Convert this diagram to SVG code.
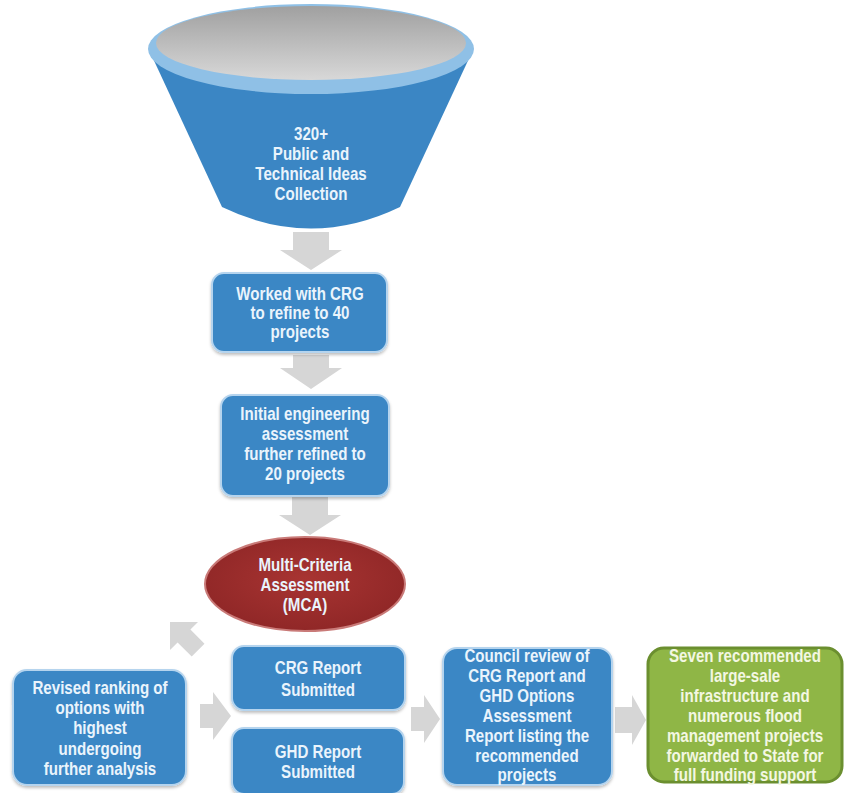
<svg xmlns="http://www.w3.org/2000/svg" width="848" height="793" viewBox="0 0 848 793">
<defs>
<linearGradient id="grey" x1="0" y1="0" x2="0" y2="1">
<stop offset="0" stop-color="#a0a0a0"/>
<stop offset="1" stop-color="#d8d8d8"/>
</linearGradient>
<radialGradient id="red" cx="0.5" cy="0.45" r="0.6">
<stop offset="0" stop-color="#a83432"/>
<stop offset="1" stop-color="#8e2626"/>
</radialGradient>
<filter id="sh" x="-10%" y="-10%" width="120%" height="130%">
<feDropShadow dx="0" dy="2" stdDeviation="1.5" flood-color="#000" flood-opacity="0.25"/>
</filter>
</defs>
<style>
.box{fill:#3a87c5;stroke:#b5d4ee;stroke-width:2;filter:url(#sh)}
.green{fill:#8fb646;stroke:#6b8f2f;stroke-width:3}
.arr{fill:#d6d6d6}
.t{font-family:"Liberation Sans",Arial,sans-serif;font-weight:bold;font-size:18px;fill:#eaf4fc;text-anchor:middle}
.tg{fill:#f3f7e2}
</style>
<rect width="848" height="793" fill="#ffffff"/>

<g id="connectors">
<path class="arr" d="M293,232 H329 V250 H342 L311,270 L280,250 H293 Z"/>
<path class="arr" d="M293,355 H329 V368 H342 L311,389 L280,368 H293 Z"/>
<path class="arr" d="M292,497 H328 V515 H341 L310,535 L279,515 H292 Z"/>
<path class="arr" d="M170,622 L198,622 L190.4,629.6 L204.5,643.7 L191.7,656.5 L177.6,642.4 L170,650 Z"/>
<path class="arr" d="M200,704 H213 V692 L231,716 L213,740 V728 H200 Z"/>
<path class="arr" d="M411,707 H424 V695 L440,719 L424,743 V731 H411 Z"/>
<path class="arr" d="M615,707 H632 V695 L646,720 L632,745 V733 H615 Z"/>
</g>

<g id="funnel">
<path d="M150,52 L222,207 Q311,250 400,207 L472,52 Z" fill="#3b86c4"/>
<ellipse cx="311" cy="49" rx="163" ry="45" fill="#8fc0e6"/>
<ellipse cx="311" cy="43" rx="155" ry="37" fill="url(#grey)"/>
<g transform="translate(311 0) scale(0.84 1)">
<text class="t" x="0" y="140">320+</text>
<text class="t" x="0" y="160">Public and</text>
<text class="t" x="0" y="180">Technical Ideas</text>
<text class="t" x="0" y="200">Collection</text>
</g>
</g>

<g id="box-crg40">
<rect class="box" x="212" y="273" width="175" height="79" rx="12"/>
<g transform="translate(300 0) scale(0.84 1)">
<text class="t" x="0" y="300">Worked with CRG</text>
<text class="t" x="0" y="319">to refine to 40</text>
<text class="t" x="0" y="338">projects</text>
</g>
</g>

<g id="box-initial">
<rect class="box" x="221" y="395" width="168" height="101" rx="12"/>
<g transform="translate(305 0) scale(0.84 1)">
<text class="t" x="0" y="420">Initial engineering</text>
<text class="t" x="0" y="440">assessment</text>
<text class="t" x="0" y="460">further  refined to</text>
<text class="t" x="0" y="480">20 projects</text>
</g>
</g>

<g id="mca">
<ellipse cx="305" cy="584" rx="100" ry="47" fill="url(#red)" stroke="#c97a78" stroke-width="2"/>
<g transform="translate(305 0) scale(0.84 1)">
<text class="t" x="0" y="571">Multi-Criteria</text>
<text class="t" x="0" y="591">Assessment</text>
<text class="t" x="0" y="611">(MCA)</text>
</g>
</g>

<g id="box-revised">
<rect class="box" x="13" y="670" width="173" height="115" rx="14"/>
<g transform="translate(100 0) scale(0.84 1)">
<text class="t" x="0" y="694">Revised ranking of</text>
<text class="t" x="0" y="714">options  with</text>
<text class="t" x="0" y="734">highest</text>
<text class="t" x="0" y="755">undergoing</text>
<text class="t" x="0" y="775">further analysis</text>
</g>
</g>

<g id="box-crgreport">
<rect class="box" x="232" y="646" width="173" height="64" rx="12"/>
<g transform="translate(318 0) scale(0.84 1)">
<text class="t" x="0" y="674">CRG Report</text>
<text class="t" x="0" y="696">Submitted</text>
</g>
</g>

<g id="box-ghdreport">
<rect class="box" x="232" y="728" width="172" height="66" rx="12"/>
<g transform="translate(318 0) scale(0.84 1)">
<text class="t" x="0" y="758">GHD Report</text>
<text class="t" x="0" y="778">Submitted</text>
</g>
</g>

<g id="box-council">
<rect class="box" x="443" y="648" width="169" height="137" rx="14"/>
<g transform="translate(527 0) scale(0.84 1)">
<text class="t" x="0" y="662">Council review of</text>
<text class="t" x="0" y="682">CRG Report and</text>
<text class="t" x="0" y="702">GHD Options</text>
<text class="t" x="0" y="722">Assessment</text>
<text class="t" x="0" y="742">Report listing the</text>
<text class="t" x="0" y="762">recommended</text>
<text class="t" x="0" y="781">projects</text>
</g>
</g>

<g id="box-seven">
<rect class="green" x="648" y="648" width="194" height="134" rx="16"/>
<g transform="translate(745 0) scale(0.84 1)">
<text class="t tg" x="0" y="662">Seven recommended</text>
<text class="t tg" x="0" y="682">large-sale</text>
<text class="t tg" x="0" y="702">infrastructure  and</text>
<text class="t tg" x="0" y="722">numerous flood</text>
<text class="t tg" x="0" y="742">management projects</text>
<text class="t tg" x="0" y="762">forwarded to State for</text>
<text class="t tg" x="0" y="781">full funding support</text>
</g>
</g>
</svg>
